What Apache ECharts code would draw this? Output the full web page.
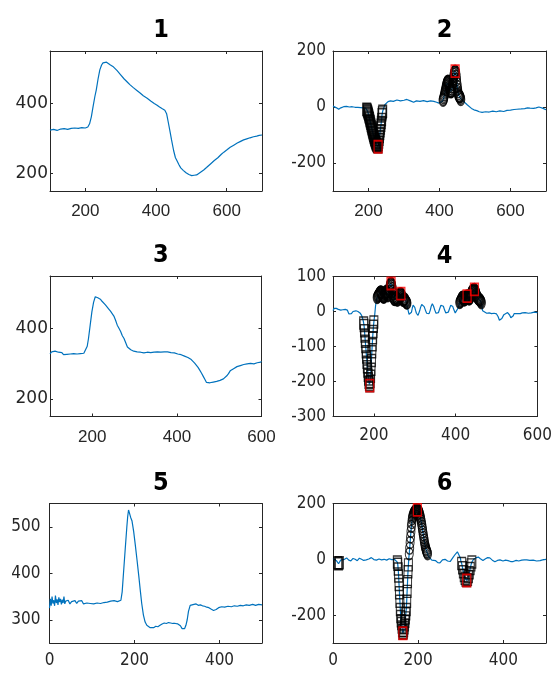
<!DOCTYPE html>
<html>
<head>
<meta charset="utf-8">
<script src="https://cdn.jsdelivr.net/npm/echarts@6/dist/echarts.min.js"></script>
<style>
  html, body { margin: 0; padding: 0; background: #fff; }
  #chart { width: 555px; height: 674px; }
</style>
</head>
<body>
<div id="chart"></div>
<script>
// ---- Signal 1 and its derivative-like trace 2 ----
const s1 = [[100,324],[110,326],[120,323],[130,327],[140,328],[150,326],[160,329],[170,330],[180,329],[190,331],[200,330],[207,333],[212,342],[217,362],[222,392],[227,420],[231,439],[236,470],[241,496],[246,510],[250,516],[255,519],[260,518],[264,515],[270,511],[278,506],[290,494],[300,482],[310,470],[320,460],[326,454],[335,446],[345,438],[355,430],[364,422],[375,415],[385,407],[395,400],[402,396],[410,390],[418,385],[425,381],[430,371],[435,345],[440,318],[444,296],[450,265],[455,245],[458,239],[465,225],[470,216],[477,209],[485,202],[493,197],[501,194],[508,195],[515,196],[525,203],[535,210],[543,217],[555,228],[565,237],[575,245],[585,255],[592,261],[600,267],[610,275],[620,281],[630,287],[638,291],[648,296],[657,299],[666,302],[676,305],[685,307],[692,309],[700,310]];

const d2 = [[100,3],[105,2],[110,-3],[116,-8],[122,-3],[130,1],[138,2],[146,0],[154,1],[162,-1],[170,-1],[178,-2],[186,-3],[192,-4],
  [195,-8],[196,-11],[197,-14],[198,-18],[199,-22],[200,-27],[201,-32],[202,-37],[203,-42],[204,-48],[205,-53],[206,-58],[207,-64],[208,-70],[209,-75],[210,-80],[211,-86],[212,-91],[213,-96],[214,-101],[215,-106],[216,-110],[217,-115],[218,-119],[219,-123],[220,-127],[221,-130],[222,-133],[223,-136],[224,-138],[225,-140],[226,-141],[227,-142],[228,-134],[229,-125],[230,-115],[231,-105],[232,-95],[233,-85],[234,-75],[235,-65],[236,-55],[237,-45],[238,-28],[239,-21],[240,-15],[243,-3],[246,8],
  [250,15],[255,19],[262,22],[270,20],[280,25],[290,22],[300,24],[308,27],[313,32],[318,22],[327,17],[335,22],[345,20],[355,23],[365,19],[375,22],[384,20],[392,17],[398,14],[403,13],[408,20],
  [410,24],[411,28],[412,33],[413,38],[414,44],[415,50],[416,56],[417,62],[418,68],[419,74],[420,79],[421,84],[422,88],[423,91],[424,92],[425,90],[426,86],[427,80],[428,73],[429,66],[430,60],[431,56],[432,54],[433,55],[434,58],[435,64],[436,72],[437,81],[438,90],[439,99],[440,108],[441,116],[442,122],[443,126],[444,128],[445,126],[446,120],[447,110],[448,98],[449,86],[450,74],[451,63],[452,54],[453,47],[454,42],[455,39],[456,37],[457,38],[458,36],[459,31],[460,27],
  [465,24],[472,15],[478,8],[482,3],[490,-5],[497,-10],[505,-13],[512,-17],[520,-19],[530,-17],[540,-18],[550,-15],[560,-17],[570,-14],[581,-16],[590,-12],[600,-11],[610,-9],[618,-8],[630,-7],[640,-6],[648,-3],[655,-4],[665,-5],[672,-3],[680,0],[684,1],[690,-4],[695,-8],[700,-10]];
const d2SquareSpans = [[195, 241, -8]];   // [from, to, y at or below]
const d2CircleSpans = [[410, 460, 24]];   // [from, to, y at or above]
const d2Extrema = [227, 444];

// ---- Signal 3 and trace 4 ----
const s3 = [[100,328],[104,334],[108,330],[112,336],[116,331],[120,333],[124,328],[128,332],[132,326],[136,330],[140,327],[144,331],[148,328],[152,333],[156,329],[160,332],[164,328],[168,331],[172,329],[176,333],[180,330],[184,335],[188,350],[191,372],[195,410],[199,448],[203,475],[207,491],[210,496],[213,488],[216,490],[219,484],[223,478],[227,473],[231,468],[235,464],[239,456],[243,450],[247,443],[251,436],[255,424],[259,410],[263,401],[267,392],[271,380],[275,372],[279,360],[283,348],[287,346],[291,340],[294,343],[298,336],[302,340],[306,334],[310,338],[314,333],[318,337],[322,331],[326,336],[330,333],[334,338],[338,332],[342,336],[346,333],[350,337],[354,334],[358,338],[362,333],[366,336],[370,334],[374,339],[378,334],[382,338],[386,332],[390,335],[394,331],[398,334],[402,328],[406,331],[410,326],[414,328],[418,322],[422,323],[426,318],[430,316],[434,312],[438,308],[442,302],[446,297],[450,290],[454,282],[458,274],[462,265],[466,256],[470,247],[474,242],[478,246],[482,244],[486,248],[490,246],[494,250],[498,249],[502,253],[506,252],[510,257],[514,260],[518,266],[522,272],[526,280],[530,283],[534,286],[538,289],[542,292],[546,291],[550,295],[554,294],[558,298],[562,297],[566,300],[570,299],[574,301],[578,302],[582,300],[586,304],[590,303],[594,306],[598,305],[600,307]];

const d4 = [[100,3],[103,9],[105,11],[108,9],[110,8],[113,6],[116,6],[119,4],[121,5],[124,5],[127,3],[130,6],[133,7],[135,4],[137,0],[139,-7],[141,-11],[143,-9],[145,-6],[147,-2],[149,0],[151,3],[153,3],[156,2],[158,1],[161,0],[163,-2],[166,-4],[168,-6],[170,-11],[172,-18],
  [174,-27],[175,-33],[176,-40],[177,-55],[178,-70],[179,-85],[180,-100],[181,-115],[182,-130],[183,-145],[184,-158],[185,-170],[186,-182],[187,-193],[188,-202],[189,-208],[190,-212],[191,-200],[192,-185],[193,-165],[194,-140],[195,-115],[196,-95],[197,-75],[198,-57],[199,-42],[200,-30],
  [202,-10],[204,15],[206,32],
  [208,40],[209,42],[210,44],[211,46],[212,48],[213,50],[214,52],[215,54],[216,55],[217,56],[218,55],[219,53],[220,50],[221,47],[222,44],[223,42],[224,41],[225,42],[226,45],[227,49],[228,53],[229,56],[230,57],[231,55],[232,51],[233,47],[234,45],[235,47],[236,52],[237,58],[238,65],[239,71],[240,76],[241,79],[242,80],[243,78],[244,73],[245,66],[246,58],[247,50],[248,43],[249,38],[250,35],[251,34],[252,35],[253,38],[254,40],[255,39],[256,36],[257,33],[258,33],[259,36],[260,40],[261,44],[262,47],[263,49],[264,50],[265,50],[266,51],[267,49],[268,45],[269,40],[270,36],[271,33],[272,32],[273,33],[274,35],[275,36],[276,34],[277,31],[278,29],[279,27],[280,25],[281,24],
  [282,12],[284,2],[286,-8],[288,-13],[290,-10],[292,-2],[294,10],[296,18],[298,19],[300,12],[302,3],[304,-5],[306,-10],[308,-11],[310,-6],[312,2],[314,11],[317,20],[320,22],[323,14],[326,4],[329,-5],[332,-10],[335,-6],[338,4],[340,14],[343,22],[346,15],[349,4],[352,-5],[355,-9],[358,-3],[361,8],[364,18],[367,23],[370,15],[373,4],[376,-4],[379,-8],[382,-2],[385,8],[388,18],[390,22],[393,14],[396,4],[399,-4],[402,-2],[405,8],[408,18],
  [410,26],[411,28],[412,30],[413,32],[414,35],[415,38],[416,40],[417,41],[418,40],[419,37],[420,34],[421,33],[422,34],[423,36],[424,38],[425,40],[426,42],[427,43],[428,44],[429,43],[430,41],[431,39],[432,37],[433,36],[434,37],[435,39],[436,42],[437,46],[438,50],[439,54],[440,57],[441,59],[442,60],[443,61],[444,61],[445,62],[446,63],[447,61],[448,58],[449,54],[450,50],[451,47],[452,44],[453,41],[454,39],[455,37],[456,36],[457,35],[458,34],[459,33],[460,32],[461,30],[462,28],[463,25],[464,18],
  [466,2],[470,-3],[476,-5],[482,-4],[488,-6],[494,-5],[500,-7],[504,-15],[507,-25],[509,-30],[511,-26],[513,-20],[518,-9],[522,-5],[527,-3],[530,-6],[532,-10],[535,-18],[537,-22],[539,-18],[541,-12],[543,-6],[546,-3],[550,-6],[554,-10],[558,-6],[563,-4],[570,-3],[578,-5],[585,-4],[592,-2],[600,-3]];
const d4SquareSpans = [[174, 200, -30]];
const d4CircleSpans = [[208, 281, 24], [410, 463, 25]];
const d4Extrema = [190, 242, 266, 428, 446];

// ---- Signal 5 and trace 6 ----
const s5 = [[0,325],[2,345],[4,330],[6,350],[8,335],[10,342],[12,330],[14,352],[16,336],[18,344],[20,332],[22,348],[24,338],[26,345],[28,333],[30,343],[32,336],[34,350],[36,334],[38,340],[40,336],[44,342],[48,334],[52,339],[56,336],[60,341],[64,335],[68,340],[72,337],[76,341],[80,334],[84,338],[88,336],[92,339],[96,335],[100,338],[104,334],[108,337],[112,336],[116,339],[120,335],[124,338],[128,337],[132,340],[136,338],[140,337],[144,340],[148,338],[152,341],[156,337],[160,339],[164,340],[168,342],[171,360],[174,399],[178,450],[182,500],[184,522],[186,536],[188,530],[191,520],[194,513],[198,490],[202,460],[206,428],[210,395],[214,360],[217,335],[221,310],[225,295],[229,288],[233,284],[237,283],[241,285],[245,283],[250,286],[255,285],[260,288],[265,291],[270,293],[275,292],[280,294],[285,293],[290,292],[296,292],[302,291],[308,287],[312,281],[315,277],[318,281],[321,288],[324,300],[327,318],[331,331],[335,335],[340,333],[345,334],[350,331],[355,332],[360,330],[365,329],[370,327],[375,326],[380,323],[386,320],[392,322],[398,326],[405,328],[412,327],[420,329],[428,328],[435,330],[442,329],[449,331],[456,330],[463,332],[470,331],[478,333],[485,331],[492,333],[500,332]];

const d6 = [[0,3],[4,0],[8,-5],[11,-12],[13,-16],[15,-12],[18,-3],[22,2],[27,0],[32,5],[37,-3],[42,-6],[47,3],[52,0],[57,-5],[62,4],[67,0],[72,-4],[78,-2],[84,1],[90,6],[96,-1],[102,-3],[108,1],[114,-2],[120,0],[126,-3],[132,2],[138,-1],[144,0],[148,-4],
  [151,-10],[152,-18],[153,-35],[154,-60],[155,-90],[156,-120],[157,-150],[158,-180],[159,-205],[160,-220],[161,-230],[162,-243],[163,-255],[164,-265],[165,-262],[166,-255],[167,-245],[168,-235],[169,-222],[170,-210],[171,-195],[172,-180],[173,-150],[174,-115],[175,-80],[176,-45],[177,-20],
  [178,5],[179,20],[180,40],[181,60],[182,80],[183,100],[184,118],[185,132],[186,145],[187,152],[188,158],[189,162],[190,166],[191,169],[192,171],[193,173],[194,174],[195,175],[196,176],[197,177],[198,177],[199,176],[200,175],[201,172],[202,168],[203,163],[204,158],[205,152],[206,145],[207,137],[208,128],[209,118],[210,108],[211,98],[212,88],[213,78],[214,68],[215,59],[216,50],[217,44],[218,38],[219,33],[220,28],[221,24],[222,20],
  [224,10],[228,3],[232,-3],[236,-9],[241,-5],[246,-12],[251,-13],[257,-2],[263,0],[269,-6],[275,-8],[281,5],[287,18],[292,27],[296,20],[299,5],
  [300,-5],[302,-15],[304,-30],[306,-45],[308,-58],[310,-68],[312,-74],[314,-76],[316,-72],[318,-62],[320,-48],[322,-33],[324,-20],[326,-10],[328,-3],
  [330,0],[335,5],[341,8],[346,2],[352,-4],[358,2],[363,6],[368,5],[374,-3],[380,-9],[386,-4],[392,-2],[399,-6],[405,-3],[411,-5],[417,-8],[423,-8],[430,-4],[436,-6],[443,-3],[449,-2],[455,-2],[462,-4],[470,-3],[478,-6],[486,-5],[492,-2],[500,0]];
const d6SquareSpans = [[10, 16, -10], [151, 177, -10], [300, 328, -10]];
const d6CircleSpans = [[178, 222, 15]];
const d6Extrema = [164, 198, 314];

// ---- Axis ranges and tick labels ----
const xTicks1 = [200, 400, 600];
const xTicks3 = [200, 400, 600];
const xTicks5 = [0, 200, 400];
const yTicks1 = [200, 400];
const yTicks2 = [-200, 0, 200];
const yTicks3 = [200, 400];
const yTicks4 = [-300, -200, -100, 0, 100];
const yTicks5 = [300, 400, 500];
const yTicks6 = [-200, 0, 200];
const titles = ['1', '2', '3', '4', '5', '6'];

const INK = '#262626';
const BLUE = '#0072BD';
const NARROW = "'Liberation Sans Narrow', 'DejaVu Sans Condensed', sans-serif";
const REGULAR = "'Liberation Sans', Arial, sans-serif";
const WIDE = "'DejaVu Sans', sans-serif";
const ELLIPSE = 'path://M0,6A4,6 0 1,1 8,6A4,6 0 1,1 0,6Z';

function inSpans(data, spans, below) {
  const out = [];
  spans.forEach(([a, b, t]) => {
    data.forEach(p => {
      if (p[0] >= a && p[0] <= b && (below ? p[1] <= t : p[1] >= t)) out.push(p);
    });
  });
  return out;
}
function atX(data, xs) {
  return xs.map(x => data.find(p => p[0] === x)).filter(Boolean);
}

const panels = [
  { grid: { left: 50, top: 51, width: 212, height: 140 }, x: [100, 700], y: [150, 550], xt: xTicks1, yt: yTicks1,
    xFont: REGULAR, yFont: WIDE, xMargin: 12, yMargin: 2, data: s1 },
  { grid: { left: 333, top: 51, width: 213, height: 140 }, x: [100, 700], y: [-300, 200], xt: xTicks1, yt: yTicks2,
    xFont: REGULAR, yFont: NARROW, xMargin: 12, yMargin: 7, data: d2, sq: d2SquareSpans, ci: d2CircleSpans, ex: d2Extrema },
  { grid: { left: 50, top: 276, width: 211.5, height: 140.5 }, x: [100, 600], y: [150, 550], xt: xTicks3, yt: yTicks3,
    xFont: REGULAR, yFont: WIDE, xMargin: 12, yMargin: 2, data: s3 },
  { grid: { left: 333, top: 276.5, width: 213, height: 140 }, x: [100, 600], y: [-300, 100], xt: xTicks3, yt: yTicks4,
    xFont: NARROW, yFont: NARROW, xMargin: 11, yMargin: 7, data: d4, sq: d4SquareSpans, ci: d4CircleSpans, ex: d4Extrema },
  { grid: { left: 49.5, top: 503.5, width: 212.5, height: 139.5 }, x: [0, 500], y: [250, 550], xt: xTicks5, yt: yTicks5,
    xFont: NARROW, yFont: NARROW, xMargin: 9, yMargin: 9, data: s5 },
  { grid: { left: 333, top: 503.5, width: 213, height: 139.5 }, x: [0, 500], y: [-300, 200], xt: xTicks5, yt: yTicks6,
    xFont: NARROW, yFont: NARROW, xMargin: 9, yMargin: 7, data: d6, sq: d6SquareSpans, ci: d6CircleSpans, ex: d6Extrema }
];

const option = {
  backgroundColor: '#fff',
  animation: false,
  title: [], grid: [], xAxis: [], yAxis: [], series: []
};

function axisBase(gridIndex, range, ticks) {
  return {
    type: 'value', gridIndex, min: range[0], max: range[1],
    splitLine: { show: false },
    axisLine: { show: true, onZero: false, lineStyle: { color: INK, width: 1 } },
    axisTick: { show: true, inside: true, length: 3, customValues: ticks, lineStyle: { color: INK, width: 1 } }
  };
}

panels.forEach((p, i) => {
  option.grid.push(Object.assign({ containLabel: false }, p.grid));
  const cx = p.grid.left + p.grid.width / 2;
  option.title.push({
    text: titles[i], left: cx, top: p.grid.top - 38, textAlign: 'center',
    textStyle: { fontFamily: NARROW, fontWeight: 'bold', fontSize: 25, color: '#000' }
  });

  const xb = axisBase(i, p.x, p.xt);
  xb.position = 'bottom';
  xb.axisLabel = { show: true, customValues: p.xt, margin: p.xMargin, color: INK, fontSize: 17, fontFamily: p.xFont };
  const xt = axisBase(i, p.x, p.xt);
  xt.position = 'top';
  xt.axisLabel = { show: false };
  const yl = axisBase(i, p.y, p.yt);
  yl.position = 'left';
  yl.axisLabel = { show: true, customValues: p.yt, margin: p.yMargin, color: INK, fontSize: 17, fontFamily: p.yFont };
  const yr = axisBase(i, p.y, p.yt);
  yr.position = 'right';
  yr.axisLabel = { show: false };

  const xi = option.xAxis.length, yi = option.yAxis.length;
  option.xAxis.push(xb, xt);
  option.yAxis.push(yl, yr);

  option.series.push({
    type: 'line', xAxisIndex: xi, yAxisIndex: yi, data: p.data, showSymbol: false,
    lineStyle: { color: BLUE, width: 1.2 }, itemStyle: { color: BLUE }, z: 2
  });
  if (p.sq) {
    option.series.push({
      type: 'scatter', xAxisIndex: xi, yAxisIndex: yi, data: inSpans(p.data, p.sq, true),
      symbol: 'rect', symbolSize: [8, 12],
      itemStyle: { color: 'rgba(0,0,0,0)', borderColor: '#000', borderWidth: 1.2 }, z: 3
    });
  }
  if (p.ci) {
    option.series.push({
      type: 'scatter', xAxisIndex: xi, yAxisIndex: yi, data: inSpans(p.data, p.ci, false),
      symbol: ELLIPSE, symbolSize: [8, 12],
      itemStyle: { color: 'rgba(0,0,0,0)', borderColor: '#000', borderWidth: 1.2 }, z: 3
    });
  }
  if (p.ex) {
    option.series.push({
      type: 'scatter', xAxisIndex: xi, yAxisIndex: yi, data: atX(p.data, p.ex),
      symbol: 'rect', symbolSize: [8, 12],
      itemStyle: { color: 'rgba(0,0,0,0)', borderColor: '#ff0000', borderWidth: 1.5 }, z: 4
    });
  }
});

const chart = echarts.init(document.getElementById('chart'), null, { renderer: 'canvas' });
chart.setOption(option);
</script>
</body>
</html>
